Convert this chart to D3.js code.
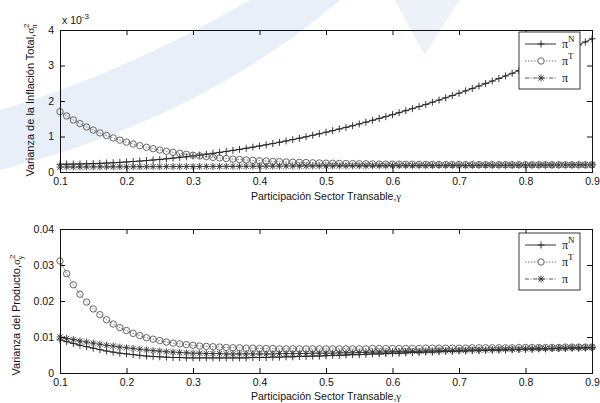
<!DOCTYPE html>
<html><head><meta charset="utf-8">
<script src="https://cdn.jsdelivr.net/npm/d3@7"></script>
<style>body{margin:0;background:#fff}svg{display:block}</style>
</head><body>
<script>
// ---- data ----
const gammaStart = 0.1, gammaStep = 0.01;
const xTicks = [0.1,0.2,0.3,0.4,0.5,0.6,0.7,0.8,0.9];
const yTicksTop = [0,1,2,3,4];
const yTicksBottom = [0,0.01,0.02,0.03,0.04];
const yTickLabelsBottom = ["0","0.01","0.02","0.03","0.04"];

// Top panel (x 10^-3)
const topPiN = [0.220,0.221,0.224,0.227,0.232,0.238,0.244,0.252,0.261,0.271,0.282,0.295,0.308,0.322,0.338,0.354,0.372,0.391,0.411,0.431,0.453,0.476,0.501,0.526,0.552,0.580,0.608,0.637,0.668,0.700,0.733,0.766,0.801,0.837,0.875,0.913,0.952,0.992,1.034,1.076,1.120,1.165,1.211,1.257,1.305,1.354,1.404,1.456,1.508,1.561,1.616,1.671,1.728,1.785,1.844,1.904,1.965,2.027,2.090,2.154,2.219,2.286,2.353,2.422,2.491,2.562,2.634,2.706,2.780,2.855,2.931,3.009,3.087,3.166,3.246,3.328,3.411,3.494,3.579,3.665,3.752];
const topPiT = [1.700,1.578,1.466,1.362,1.268,1.181,1.101,1.027,0.960,0.898,0.841,0.789,0.741,0.697,0.656,0.619,0.585,0.554,0.525,0.498,0.474,0.452,0.431,0.412,0.395,0.379,0.365,0.351,0.339,0.327,0.317,0.308,0.299,0.291,0.283,0.277,0.270,0.265,0.259,0.254,0.250,0.246,0.242,0.239,0.236,0.233,0.230,0.228,0.225,0.223,0.221,0.220,0.218,0.217,0.215,0.214,0.213,0.212,0.211,0.210,0.209,0.208,0.208,0.207,0.206,0.206,0.205,0.205,0.204,0.204,0.204,0.203,0.203,0.203,0.202,0.202,0.202,0.202,0.202,0.201,0.201];
const topPi = [0.140,0.141,0.142,0.142,0.143,0.144,0.145,0.145,0.146,0.147,0.148,0.148,0.149,0.150,0.151,0.151,0.152,0.153,0.154,0.154,0.155,0.156,0.157,0.158,0.158,0.159,0.160,0.161,0.161,0.162,0.163,0.164,0.164,0.165,0.166,0.167,0.167,0.168,0.169,0.170,0.170,0.171,0.172,0.173,0.174,0.174,0.175,0.176,0.177,0.177,0.178,0.179,0.180,0.180,0.181,0.182,0.183,0.183,0.184,0.185,0.186,0.186,0.187,0.188,0.189,0.189,0.190,0.191,0.192,0.192,0.193,0.194,0.195,0.195,0.196,0.197,0.198,0.198,0.199,0.200,0.201];

// Bottom panel
const botPiN = [0.0092,0.0087,0.0082,0.0077,0.0073,0.0069,0.0065,0.0061,0.0058,0.0055,0.0053,0.0051,0.0049,0.0047,0.0046,0.0045,0.0044,0.0043,0.0043,0.0042,0.0042,0.0042,0.0042,0.0042,0.0042,0.0042,0.0042,0.0042,0.0042,0.0043,0.0043,0.0043,0.0044,0.0044,0.0045,0.0045,0.0046,0.0046,0.0047,0.0047,0.0048,0.0049,0.0049,0.0050,0.0051,0.0051,0.0052,0.0053,0.0053,0.0054,0.0055,0.0055,0.0056,0.0057,0.0057,0.0058,0.0058,0.0059,0.0060,0.0060,0.0061,0.0061,0.0062,0.0062,0.0063,0.0063,0.0064,0.0064,0.0065,0.0065,0.0066,0.0066,0.0067,0.0067,0.0068,0.0068,0.0068,0.0069,0.0069,0.0070,0.0070];
const botPiT = [0.0311,0.0276,0.0245,0.0219,0.0197,0.0178,0.0162,0.0148,0.0136,0.0126,0.0118,0.0110,0.0104,0.0098,0.0094,0.0090,0.0086,0.0083,0.0081,0.0079,0.0077,0.0075,0.0074,0.0073,0.0072,0.0071,0.0070,0.0070,0.0069,0.0069,0.0068,0.0068,0.0068,0.0067,0.0067,0.0067,0.0067,0.0067,0.0067,0.0067,0.0067,0.0067,0.0067,0.0067,0.0067,0.0067,0.0067,0.0068,0.0068,0.0068,0.0068,0.0068,0.0068,0.0068,0.0068,0.0069,0.0069,0.0069,0.0069,0.0069,0.0069,0.0069,0.0070,0.0070,0.0070,0.0070,0.0070,0.0070,0.0070,0.0071,0.0071,0.0071,0.0071,0.0071,0.0071,0.0071,0.0072,0.0072,0.0072,0.0072,0.0072];
const botPi = [0.0100,0.0096,0.0093,0.0089,0.0086,0.0083,0.0080,0.0077,0.0075,0.0072,0.0070,0.0068,0.0066,0.0064,0.0062,0.0061,0.0059,0.0058,0.0057,0.0056,0.0055,0.0055,0.0054,0.0054,0.0054,0.0053,0.0053,0.0053,0.0053,0.0053,0.0053,0.0053,0.0053,0.0054,0.0054,0.0054,0.0054,0.0054,0.0055,0.0055,0.0055,0.0055,0.0056,0.0056,0.0056,0.0057,0.0057,0.0058,0.0058,0.0058,0.0059,0.0059,0.0060,0.0060,0.0060,0.0061,0.0061,0.0062,0.0062,0.0062,0.0063,0.0063,0.0064,0.0064,0.0064,0.0065,0.0065,0.0066,0.0066,0.0066,0.0067,0.0067,0.0068,0.0068,0.0068,0.0069,0.0069,0.0070,0.0070,0.0070,0.0071];

const gammas = topPiN.map((d,i)=> +(gammaStart + i*gammaStep).toFixed(2));

// ---- drawing ----
const W = 600, H = 403;
const svg = d3.select("body").append("svg").attr("width", W).attr("height", H);
const FONT = "Liberation Sans, Arial, sans-serif";

// faint watermark swoosh
svg.append("path")
  .attr("d","M0,110 Q120,75 250,0 L340,0 Q200,120 0,170 Z")
  .attr("fill","#e8eff8");
svg.append("path")
  .attr("d","M395,0 L460,0 Q440,30 425,55 Q410,30 395,0 Z")
  .attr("fill","#edf2f9");

function markerPath(type, x, y) {
  const s = 3.5;
  if (type === "plus") return `M${x-s},${y}H${x+s}M${x},${y-s}V${y+s}`;
  if (type === "star") {
    const d = 2.6;
    return `M${x-s},${y}H${x+s}M${x},${y-s}V${y+s}M${x-d},${y-d}L${x+d},${y+d}M${x-d},${y+d}L${x+d},${y-d}`;
  }
  return null;
}

const seriesStyle = {
  N: {marker:"plus", stroke:"#222", dash:null, width:0.9, mstroke:"#222"},
  T: {marker:"circle", stroke:"#666", dash:"1.5,1.5", width:0.9, mstroke:"#555"},
  P: {marker:"star", stroke:"#444", dash:"4,1.5,1,1.5", width:0.9, mstroke:"#333"}
};

function panel(opts) {
  const {x0,x1,y0,y1,ydom,yticks,ylabels,series,legendY} = opts;
  const x = d3.scaleLinear().domain([0.1,0.9]).range([x0,x1]);
  const y = d3.scaleLinear().domain(ydom).range([y1,y0]);
  const g = svg.append("g");

  series.forEach(s => {
    const st = seriesStyle[s.key];
    const line = d3.line().x((d,i)=>x(gammas[i])).y(d=>y(d));
    g.append("path").attr("d", line(s.values)).attr("fill","none")
      .attr("stroke", st.stroke).attr("stroke-width", st.width)
      .attr("stroke-dasharray", st.dash);
    s.values.forEach((v,i) => {
      const px = x(gammas[i]), py = y(v);
      if (st.marker === "circle") {
        g.append("circle").attr("cx",px).attr("cy",py).attr("r",3.2)
          .attr("fill","none").attr("stroke",st.mstroke).attr("stroke-width",0.9);
      } else {
        g.append("path").attr("d", markerPath(st.marker,px,py))
          .attr("fill","none").attr("stroke",st.mstroke).attr("stroke-width",0.9);
      }
    });
  });

  const xb = d3.axisBottom(x).tickValues(xTicks).tickSize(-5).tickPadding(6).tickFormat(d3.format(".1f"));
  const xt = d3.axisTop(x).tickValues(xTicks).tickSize(-5).tickFormat("");
  const yl = d3.axisLeft(y).tickValues(yticks).tickSize(-5).tickPadding(6).tickFormat((d,i)=>ylabels[i]);
  const yr = d3.axisRight(y).tickValues(yticks).tickSize(-5).tickFormat("");
  const axes = [
    g.append("g").attr("transform",`translate(0,${y1})`).call(xb),
    g.append("g").attr("transform",`translate(0,${y0})`).call(xt),
    g.append("g").attr("transform",`translate(${x0},0)`).call(yl),
    g.append("g").attr("transform",`translate(${x1},0)`).call(yr)
  ];
  axes.forEach(a => {
    a.selectAll("path.domain").attr("stroke","#111").attr("stroke-width",1);
    a.selectAll("line").attr("stroke","#111");
    a.selectAll("text").attr("font-family",FONT).attr("font-size",10.5).attr("fill","#111");
  });

  const lx0 = 519, lx1 = 580, ly0 = legendY, ly1 = legendY + 57;
  g.append("rect").attr("x",lx0).attr("y",ly0).attr("width",lx1-lx0).attr("height",ly1-ly0)
    .attr("fill","#fff").attr("stroke","#222").attr("stroke-width",0.9);
  const entries = [{key:"N", sup:"N"},{key:"T", sup:"T"},{key:"P", sup:null}];
  entries.forEach((e,i) => {
    const st = seriesStyle[e.key];
    const ey = ly0 + 12 + i*17;
    g.append("line").attr("x1",525).attr("x2",556).attr("y1",ey).attr("y2",ey)
      .attr("stroke",st.stroke).attr("stroke-width",0.9).attr("stroke-dasharray",st.dash);
    if (st.marker === "circle") {
      g.append("circle").attr("cx",541).attr("cy",ey).attr("r",3.2).attr("fill","#fff")
        .attr("stroke",st.mstroke).attr("stroke-width",0.9);
    } else {
      g.append("path").attr("d",markerPath(st.marker,541,ey)).attr("fill","none")
        .attr("stroke",st.mstroke).attr("stroke-width",0.9);
    }
    const t = g.append("text").attr("x",562).attr("y",ey+4)
      .attr("font-family","Liberation Serif, Times New Roman, serif").attr("font-size",12).attr("fill","#111");
    t.append("tspan").text("π");
    if (e.sup) t.append("tspan").attr("dy",-6).attr("font-size",9).text(e.sup);
  });
  return {x,y};
}

panel({x0:60,x1:592,y0:30,y1:172,ydom:[0,4],yticks:yTicksTop,ylabels:yTicksTop.map(String),
  series:[{key:"N",values:topPiN},{key:"T",values:topPiT},{key:"P",values:topPi}], legendY:32});
panel({x0:60,x1:592,y0:229,y1:373,ydom:[0,0.04],yticks:yTicksBottom,ylabels:yTickLabelsBottom,
  series:[{key:"N",values:botPiN},{key:"T",values:botPiT},{key:"P",values:botPi}], legendY:233});

const mult = svg.append("text").attr("x",62).attr("y",24).attr("font-family",FONT)
  .attr("font-size",10.5).attr("fill","#111");
mult.append("tspan").text("x 10");
mult.append("tspan").attr("dy",-5).attr("font-size",8).text("-3");

[200,400].forEach(yy => {
  const t = svg.append("text").attr("x",326).attr("y",yy).attr("text-anchor","middle")
    .attr("font-family",FONT).attr("font-size",10.5).attr("fill","#111");
  t.append("tspan").text("Participación Sector Transable,");
  t.append("tspan").attr("font-family","Liberation Serif, serif").text("γ");
});

function ylabel(cx, cy, main, sub, size) {
  const t = svg.append("text").attr("transform",`translate(${cx},${cy}) rotate(-90)`)
    .attr("text-anchor","middle").attr("font-family",FONT).attr("font-size",size).attr("fill","#111");
  t.append("tspan").text(main);
  t.append("tspan").attr("font-family","Liberation Serif, serif").text("σ");
  t.append("tspan").attr("dy",-5).attr("font-size",size-3).text("2");
  t.append("tspan").attr("dy",8).attr("dx",-5).attr("font-size",size-3).attr("font-family","Liberation Serif, serif").text(sub);
}
ylabel(34, 100, "Varianza de la Inflación Total,", "π", 11);
ylabel(20, 315, "Varianza del Producto,", "y", 11);
</script>
</body></html>
